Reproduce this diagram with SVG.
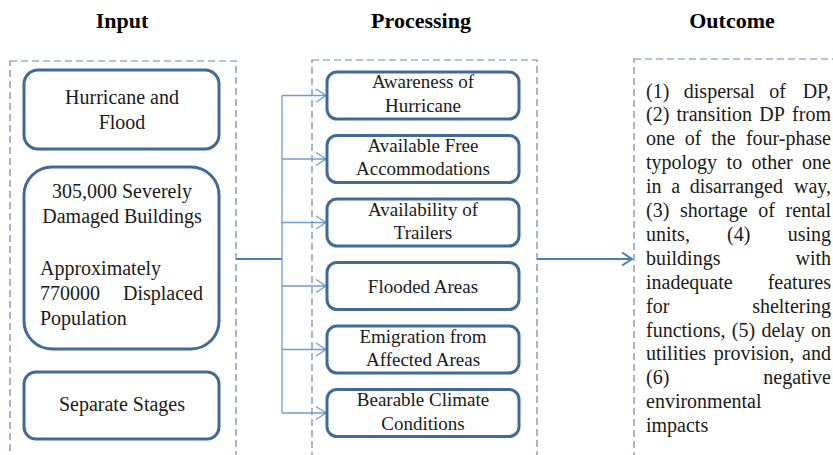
<svg xmlns="http://www.w3.org/2000/svg" width="833" height="455" viewBox="0 0 833 455">
<style>
.bg{fill:#ffffff}
.frame{fill:none;stroke:#6A86AE;stroke-width:1.2;stroke-dasharray:7 4}
.node{fill:#ffffff;stroke:#41699A;stroke-width:3}
.t{font-family:"Liberation Serif","Times New Roman",serif;fill:#1a1a1a}
.h{font-family:"Liberation Serif","Times New Roman",serif;font-weight:bold;font-size:22px;fill:#000;text-anchor:middle}
.in{font-size:20px}
.pr{font-size:19px;text-anchor:middle}
.out{font-size:20px}
.main{fill:none;stroke:#4A7EBB;stroke-width:2}
.br{fill:none;stroke:#6E9DD4;stroke-width:1.3}
</style>
<rect class="bg" x="0" y="0" width="833" height="455"/>
<g id="headers">
<text class="h" x="122" y="28">Input</text>
<text class="h" x="421" y="28">Processing</text>
<text class="h" x="732" y="28">Outcome</text>
</g>
<g id="frames">
<rect class="frame" x="10" y="61" width="226" height="420"/>
<rect class="frame" x="312" y="60" width="225" height="420"/>
<rect class="frame" x="634" y="59" width="220" height="420"/>
</g>
<g id="connectors">
<path class="main" d="M236 259 H282"/>
<path class="br" d="M282 95.5 V413"/>
<path class="br" d="M282 95.5 H326 M316 89 L326 95.5 L316 102"/>
<path class="br" d="M282 159 H326 M316 152.5 L326 159 L316 165.5"/>
<path class="br" d="M282 222.5 H326 M316 216 L326 222.5 L316 229"/>
<path class="br" d="M282 286 H326 M316 279.5 L326 286 L316 292.5"/>
<path class="br" d="M282 349.5 H326 M316 343 L326 349.5 L316 356"/>
<path class="br" d="M282 413 H326 M316 406.5 L326 413 L316 419.5"/>
<path class="main" d="M537 259 H632 M622 252.5 L632 259 L622 265.5"/>
</g>
<g id="input-hurricane">
<rect class="node" x="24" y="70" width="195" height="79" rx="14"/>
<text class="t in" x="122" y="104" text-anchor="middle">Hurricane and</text>
<text class="t in" x="122" y="129" text-anchor="middle">Flood</text>
</g>
<g id="input-damage">
<rect class="node" x="24" y="167" width="195" height="182" rx="28"/>
<text class="t in" x="122" y="197.5" text-anchor="middle">305,000 Severely</text>
<text class="t in" x="122" y="222.5" text-anchor="middle">Damaged Buildings</text>
<text class="t in" x="40" y="275">Approximately</text>
<text class="t in" x="40" y="300">770000</text>
<text class="t in" x="203" y="300" text-anchor="end">Displaced</text>
<text class="t in" x="40" y="324.5">Population</text>
</g>
<g id="input-stages">
<rect class="node" x="24" y="372" width="195" height="67" rx="12"/>
<text class="t in" x="122" y="411" text-anchor="middle">Separate Stages</text>
</g>
<g id="proc-awareness">
<rect class="node" x="327" y="72" width="192" height="47" rx="10"/>
<text class="t pr" x="423" y="88.3">Awareness of</text>
<text class="t pr" x="423" y="111.7">Hurricane</text>
</g>
<g id="proc-accommodations">
<rect class="node" x="327" y="135.5" width="192" height="47" rx="10"/>
<text class="t pr" x="423" y="151.8">Available Free</text>
<text class="t pr" x="423" y="175.2">Accommodations</text>
</g>
<g id="proc-trailers">
<rect class="node" x="327" y="199" width="192" height="47" rx="10"/>
<text class="t pr" x="423" y="215.8">Availability of</text>
<text class="t pr" x="423" y="238.7">Trailers</text>
</g>
<g id="proc-flooded">
<rect class="node" x="327" y="262.5" width="192" height="47" rx="10"/>
<text class="t pr" x="423" y="292.5">Flooded Areas</text>
</g>
<g id="proc-emigration">
<rect class="node" x="327" y="326" width="192" height="47" rx="10"/>
<text class="t pr" x="423" y="342.6">Emigration from</text>
<text class="t pr" x="423" y="366">Affected Areas</text>
</g>
<g id="proc-climate">
<rect class="node" x="327" y="389.5" width="192" height="47" rx="10"/>
<text class="t pr" x="423" y="406.3">Bearable Climate</text>
<text class="t pr" x="423" y="429.5">Conditions</text>
</g>
<g id="outcome-text" class="t out">
<text y="97.5"><tspan x="646">(1)</tspan><tspan x="683.8">dispersal</tspan><tspan x="769.3">of</tspan></text>
<text y="97.5" x="831" text-anchor="end">DP,</text>
<text y="121.4"><tspan x="646">(2)</tspan><tspan x="676.5">transition</tspan><tspan x="759.3">DP</tspan></text>
<text y="121.4" x="831" text-anchor="end">from</text>
<text y="145.3"><tspan x="646">one</tspan><tspan x="684.7">of</tspan><tspan x="711.2">the</tspan></text>
<text y="145.3" x="831" text-anchor="end">four-phase</text>
<text y="169.2"><tspan x="646">typology</tspan><tspan x="726.6">to</tspan><tspan x="751.6">other</tspan></text>
<text y="169.2" x="831" text-anchor="end">one</text>
<text y="193.1"><tspan x="646">in</tspan><tspan x="671.2">a</tspan><tspan x="689.7">disarranged</tspan></text>
<text y="193.1" x="831" text-anchor="end">way,</text>
<text y="217"><tspan x="646">(3)</tspan><tspan x="679.9">shortage</tspan><tspan x="758.2">of</tspan></text>
<text y="217" x="831" text-anchor="end">rental</text>
<text y="240.9"><tspan x="646">units,</tspan><tspan x="727.1">(4)</tspan></text>
<text y="240.9" x="831" text-anchor="end">using</text>
<text y="264.8" x="646">buildings</text>
<text y="264.8" x="831" text-anchor="end">with</text>
<text y="288.7" x="646">inadequate</text>
<text y="288.7" x="831" text-anchor="end">features</text>
<text y="312.6" x="646">for</text>
<text y="312.6" x="831" text-anchor="end">sheltering</text>
<text y="336.5"><tspan x="646">functions,</tspan><tspan x="731.8">(5)</tspan><tspan x="761.4">delay</tspan></text>
<text y="336.5" x="831" text-anchor="end">on</text>
<text y="360.4"><tspan x="646">utilities</tspan><tspan x="713.8">provision,</tspan></text>
<text y="360.4" x="831" text-anchor="end">and</text>
<text y="384.3" x="646">(6)</text>
<text y="384.3" x="831" text-anchor="end">negative</text>
<text y="408.2" x="646">environmental</text>
<text y="432.1" x="646">impacts</text>
</g>
</svg>
